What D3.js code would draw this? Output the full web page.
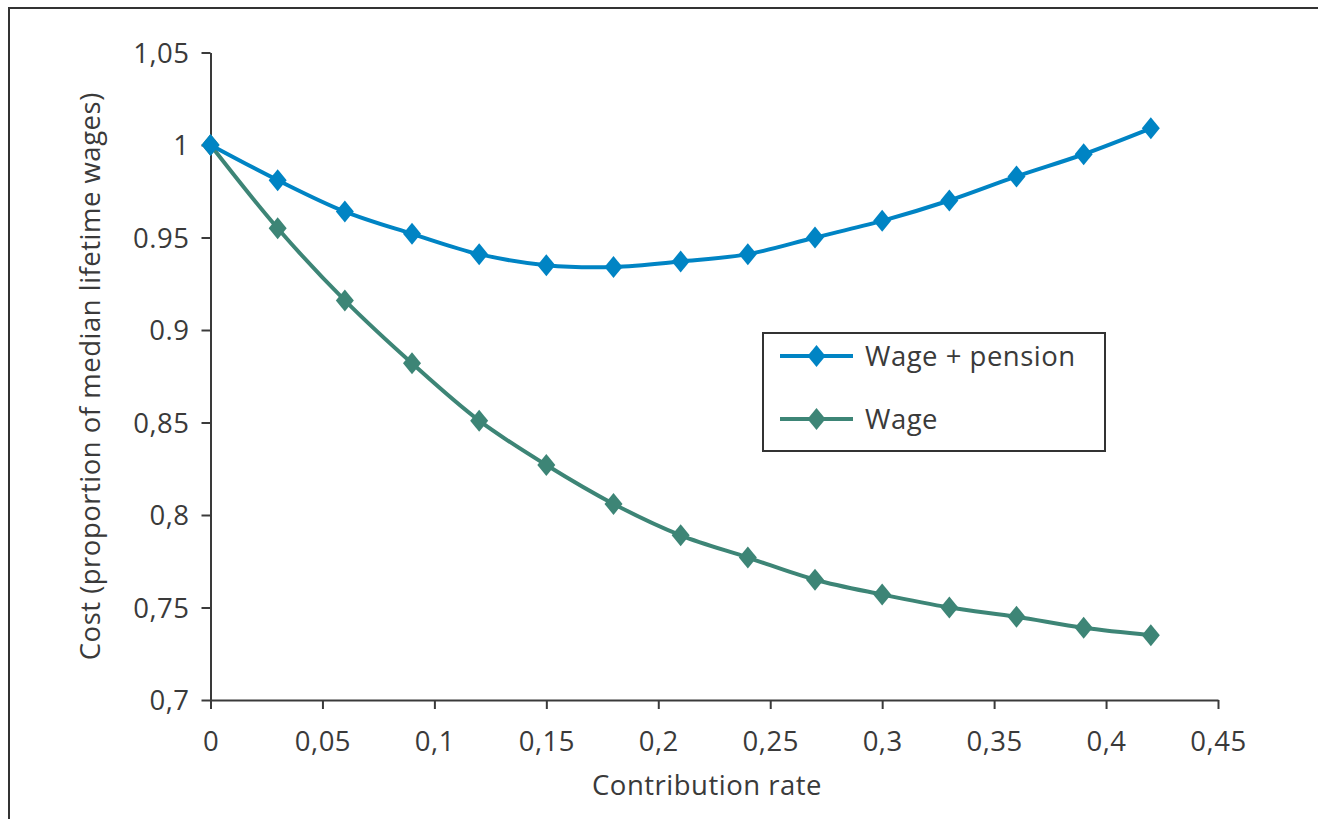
<!DOCTYPE html>
<html>
<head>
<meta charset="utf-8">
<script src="https://cdn.jsdelivr.net/npm/d3@7"></script>
<style>
  html, body { margin: 0; padding: 0; background: #fff; }
  svg { display: block; }
  text { font-family: "Open Sans", "Noto Sans", sans-serif; fill: #3a3a3a; letter-spacing: 0.5px; }
</style>
</head>
<body>
<svg id="chart" width="1318" height="819"></svg>
<script>
// Contribution rates (x) and the two cost series
const rates = [0, 0.03, 0.06, 0.09, 0.12, 0.15, 0.18, 0.21, 0.24, 0.27, 0.30, 0.33, 0.36, 0.39, 0.42];
const wagePension = [1.000, 0.981, 0.964, 0.952, 0.941, 0.935, 0.934, 0.937, 0.941, 0.950, 0.959, 0.970, 0.983, 0.995, 1.009];
const wageOnly = [1.000, 0.955, 0.916, 0.882, 0.851, 0.827, 0.806, 0.789, 0.777, 0.765, 0.757, 0.750, 0.745, 0.739, 0.735];

const seriesNames = ["Wage + pension", "Wage"];
const seriesColors = ["#0084c4", "#3d8576"];

const xTicks = [0, 0.05, 0.1, 0.15, 0.2, 0.25, 0.3, 0.35, 0.4, 0.45];
const xTickLabels = ["0", "0,05", "0,1", "0,15", "0,2", "0,25", "0,3", "0,35", "0,4", "0,45"];
const yTicks = [0.7, 0.75, 0.8, 0.85, 0.9, 0.95, 1, 1.05];
const yTickLabels = ["0,7", "0,75", "0,8", "0,85", "0.9", "0.95", "1", "1,05"];

const xTitle = "Contribution rate";
const yTitle = "Cost (proportion of median lifetime wages)";

const svg = d3.select("#chart");
const axisColor = "#3a3a3a";
const fontSize = 27.5;

// outer frame
svg.append("rect")
  .attr("x", 9).attr("y", 8)
  .attr("width", 1400).attr("height", 900)
  .attr("fill", "none").attr("stroke", "#333").attr("stroke-width", 2);

const x = d3.scaleLinear().domain([0, 0.45]).range([210.5, 1218]);
const y = d3.scaleLinear().domain([0.7, 1.05]).range([700, 52.5]);

// x axis
const xAxis = d3.axisBottom(x)
  .tickValues(xTicks)
  .tickSize(9)
  .tickSizeOuter(0)
  .tickPadding(22)
  .tickFormat((d, i) => xTickLabels[i]);
const gx = svg.append("g").attr("transform", `translate(0,${y(0.7)})`).call(xAxis);

// y axis
const yAxis = d3.axisLeft(y)
  .tickValues(yTicks)
  .tickSize(9)
  .tickSizeOuter(0)
  .tickPadding(12)
  .tickFormat((d, i) => yTickLabels[i]);
const gy = svg.append("g").attr("transform", `translate(${x(0)},0)`).call(yAxis);

[gx, gy].forEach(g => {
  g.select(".domain").attr("stroke", axisColor).attr("stroke-width", 2);
  g.selectAll(".tick line").attr("stroke", axisColor).attr("stroke-width", 2);
  g.selectAll(".tick text")
    .attr("font-size", fontSize)
    .attr("font-family", "'Open Sans', 'Noto Sans', sans-serif")
    .attr("fill", "#3a3a3a");
});
gx.selectAll(".tick text").attr("dy", "0.71em");
gy.selectAll(".tick text").attr("dy", "0.36em");

// axis titles
svg.append("text")
  .attr("x", 707).attr("y", 795)
  .attr("text-anchor", "middle")
  .attr("font-size", fontSize)
  .text(xTitle);

svg.append("text")
  .attr("transform", `translate(100, ${y(0.875)}) rotate(-90)`)
  .attr("text-anchor", "middle")
  .attr("font-size", fontSize)
  .text(yTitle);

// diamond marker path centred on (0,0)
const diamond = (w, h) => `M0,${-h / 2}L${w / 2},0L0,${h / 2}L${-w / 2},0Z`;

const line = d3.line()
  .x(d => x(d[0]))
  .y(d => y(d[1]))
  .curve(d3.curveCatmullRom.alpha(0.5));

const allSeries = [wagePension, wageOnly];

// draw the Wage series first so Wage + pension sits on top at the shared start point
[1, 0].forEach(si => {
  const pts = rates.map((r, i) => [r, allSeries[si][i]]);
  const g = svg.append("g");
  g.append("path")
    .attr("d", line(pts))
    .attr("fill", "none")
    .attr("stroke", seriesColors[si])
    .attr("stroke-width", 4)
    .attr("stroke-linejoin", "round");
  g.selectAll("path.mk")
    .data(pts)
    .enter().append("path")
    .attr("class", "mk")
    .attr("d", diamond(18, 22))
    .attr("transform", d => `translate(${x(d[0])},${y(d[1])})`)
    .attr("fill", seriesColors[si]);
});

// legend
const legend = svg.append("g");
legend.append("rect")
  .attr("x", 763).attr("y", 333)
  .attr("width", 342).attr("height", 118)
  .attr("fill", "#fff").attr("stroke", "#333").attr("stroke-width", 2);

seriesNames.forEach((name, i) => {
  const cy = 356 + i * 63;
  legend.append("line")
    .attr("x1", 780).attr("x2", 853)
    .attr("y1", cy).attr("y2", cy)
    .attr("stroke", seriesColors[i]).attr("stroke-width", 4);
  legend.append("path")
    .attr("d", diamond(18, 22))
    .attr("transform", `translate(816.5,${cy})`)
    .attr("fill", seriesColors[i]);
  legend.append("text")
    .attr("x", 865).attr("y", cy)
    .attr("dy", "0.36em")
    .attr("font-size", fontSize)
    .text(name);
});
</script>
</body>
</html>
